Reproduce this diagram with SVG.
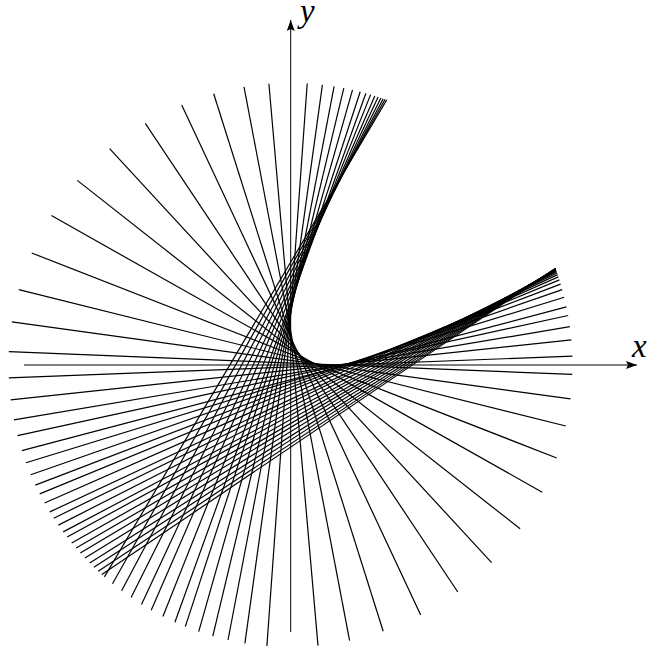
<svg xmlns="http://www.w3.org/2000/svg" width="651" height="650" viewBox="0 0 651 650">
<defs>
<style>
.ln{stroke:#000;stroke-width:1.2;fill:none}
.ax{stroke:#000;stroke-width:1;fill:none}
.lbl{font-family:"Liberation Serif","DejaVu Serif",serif;font-style:italic;font-size:33px;fill:#000}
</style>
<marker id="arr" markerUnits="userSpaceOnUse" markerWidth="12" markerHeight="9" refX="11" refY="4" orient="auto">
<path d="M0,0 L11,4 L0,8 L2,4 z" fill="#000"/>
</marker>
</defs>
<rect width="651" height="650" fill="#fff"/>
<g id="family" class="ln">
<line x1="386.7" y1="99.9" x2="104.4" y2="576.9"/>
<line x1="385.1" y1="99.3" x2="112.5" y2="583.7"/>
<line x1="383.2" y1="98.7" x2="121.6" y2="590.8"/>
<line x1="380.9" y1="97.9" x2="131.1" y2="597.6"/>
<line x1="378.1" y1="97.0" x2="141.5" y2="604.4"/>
<line x1="374.8" y1="95.9" x2="151.2" y2="610.2"/>
<line x1="370.6" y1="94.6" x2="162.9" y2="616.5"/>
<line x1="365.9" y1="93.3" x2="174.9" y2="622.2"/>
<line x1="360.2" y1="91.7" x2="185.3" y2="626.6"/>
<line x1="352.5" y1="89.9" x2="198.7" y2="631.6"/>
<line x1="343.8" y1="88.1" x2="212.8" y2="636.1"/>
<line x1="334.1" y1="86.4" x2="228.0" y2="640.0"/>
<line x1="322.4" y1="84.8" x2="244.9" y2="643.3"/>
<line x1="307.2" y1="83.5" x2="266.9" y2="646.0"/>
<line x1="268.9" y1="83.8" x2="318.0" y2="645.6"/>
<line x1="244.0" y1="86.9" x2="349.6" y2="640.7"/>
<line x1="213.7" y1="93.7" x2="383.2" y2="631.3"/>
<line x1="181.7" y1="104.9" x2="420.7" y2="615.1"/>
<line x1="145.3" y1="123.3" x2="457.8" y2="592.0"/>
<line x1="109.6" y1="148.6" x2="491.6" y2="562.6"/>
<line x1="77.3" y1="180.4" x2="520.1" y2="528.8"/>
<line x1="51.4" y1="215.6" x2="542.2" y2="492.2"/>
<line x1="31.7" y1="253.0" x2="556.7" y2="458.0"/>
<line x1="18.8" y1="289.6" x2="565.8" y2="426.0"/>
<line x1="11.8" y1="321.9" x2="570.5" y2="398.9"/>
<line x1="8.8" y1="351.7" x2="572.3" y2="374.4"/>
<line x1="8.8" y1="377.8" x2="572.4" y2="356.1"/>
<line x1="10.7" y1="399.9" x2="571.4" y2="339.9"/>
<line x1="13.9" y1="419.8" x2="569.9" y2="326.7"/>
<line x1="17.5" y1="435.6" x2="568.1" y2="315.5"/>
<line x1="21.8" y1="450.7" x2="566.4" y2="306.9"/>
<line x1="26.0" y1="462.8" x2="564.2" y2="297.3"/>
<line x1="30.7" y1="474.7" x2="562.2" y2="289.6"/>
<line x1="35.3" y1="485.1" x2="560.6" y2="284.1"/>
<line x1="39.7" y1="493.9" x2="559.4" y2="279.9"/>
<line x1="44.6" y1="503.0" x2="558.4" y2="276.9"/>
<line x1="49.8" y1="511.9" x2="557.6" y2="274.6"/>
<line x1="53.7" y1="518.2" x2="557.1" y2="273.0"/>
<line x1="58.4" y1="525.1" x2="556.7" y2="271.8"/>
<line x1="63.2" y1="531.9" x2="556.3" y2="270.9"/>
<line x1="67.1" y1="537.0" x2="556.1" y2="270.3"/>
<line x1="71.7" y1="542.9" x2="555.9" y2="269.8"/>
<line x1="76.1" y1="548.1" x2="555.8" y2="269.4"/>
<line x1="80.3" y1="553.0" x2="555.7" y2="269.1"/>
<line x1="84.9" y1="558.0" x2="555.7" y2="268.9"/>
<line x1="89.7" y1="563.0" x2="555.6" y2="268.7"/>
<line x1="93.9" y1="567.2" x2="555.6" y2="268.6"/>
<line x1="98.2" y1="571.3" x2="555.5" y2="268.5"/>
<line x1="101.8" y1="574.6" x2="555.5" y2="268.4"/>
</g>
<g id="axes" class="ax">
<line id="x-axis" x1="24" y1="365" x2="637" y2="365" marker-end="url(#arr)"/>
<line id="y-axis" x1="290.7" y1="632" x2="290.7" y2="20" marker-end="url(#arr)"/>
</g>
<g id="labels">
<text class="lbl" x="632" y="357">x</text>
<text class="lbl" x="300" y="22">y</text>
</g>
</svg>
